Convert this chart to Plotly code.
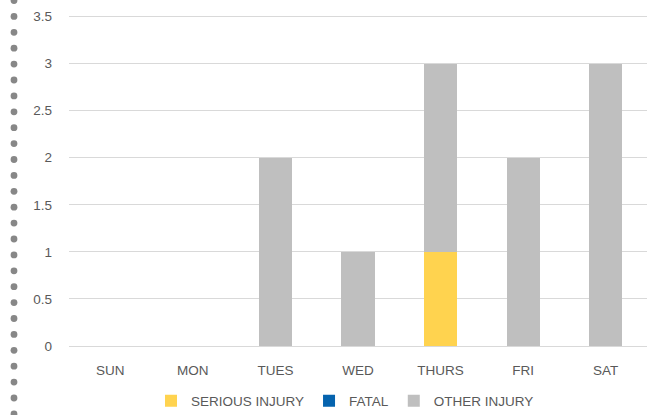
import plotly.graph_objects as go

days = ["SUN", "MON", "TUES", "WED", "THURS", "FRI", "SAT"]
serious = [0, 0, 0, 0, 1, 0, 0]
fatal = [0, 0, 0, 0, 0, 0, 0]
other = [0, 0, 2, 1, 2, 2, 3]
y_ticks = [0, 0.5, 1, 1.5, 2, 2.5, 3, 3.5]

font = "Liberation Sans"
fig = go.Figure()
fig.add_bar(x=days, y=serious, name="SERIOUS INJURY", marker_color="#FFD34F", marker_line_width=0)
fig.add_bar(x=days, y=fatal, name="FATAL", marker_color="#0563AE", marker_line_width=0)
fig.add_bar(x=days, y=other, name="OTHER INJURY", marker_color="#BFBFBF", marker_line_width=0)

# decorative dotted border on the left
PW, PH, L = 578, 346, 69
shapes = []
for i in range(27):
    cy = 0.5 + i * 15.9
    shapes.append(dict(type="circle", xref="paper", yref="paper", xsizemode="pixel", ysizemode="pixel",
                       xanchor=(14 - L) / PW, yanchor=1 - cy / PH,
                       x0=-3.4, x1=3.4, y0=-3.4, y1=3.4,
                       fillcolor="#878787", line_width=0, layer="above"))

fig.update_layout(
    barmode="stack", bargap=0.6,
    width=655, height=415,
    margin=dict(l=L, r=8, t=0, b=69, autoexpand=False),
    plot_bgcolor="white", paper_bgcolor="white",
    font=dict(family=font, size=13.5, color="#595959"),
    showlegend=True,
    legend=dict(orientation="h", x=(345 - L) / PW, xanchor="center", y=-(401 - PH) / PH, yanchor="middle",
                font=dict(size=13.5, color="#595959"), traceorder="normal", itemwidth=30),
    shapes=shapes,
    xaxis=dict(showgrid=False, showline=False, ticks="", tickfont=dict(size=13.5), ticklabelstandoff=14),
    yaxis=dict(range=[0, 3.675], tickvals=y_ticks, ticktext=[f"{v:g}" for v in y_ticks],
               showgrid=True, gridcolor="#D9D9D9", gridwidth=1,
               zeroline=True, zerolinecolor="#D9D9D9", zerolinewidth=1,
               ticks="", ticklabelstandoff=16, tickfont=dict(size=13.5)),
)
fig.write_html("out.html", config={"displayModeBar": False},
               post_script="document.body.style.margin='0';document.body.style.overflow='hidden';")
